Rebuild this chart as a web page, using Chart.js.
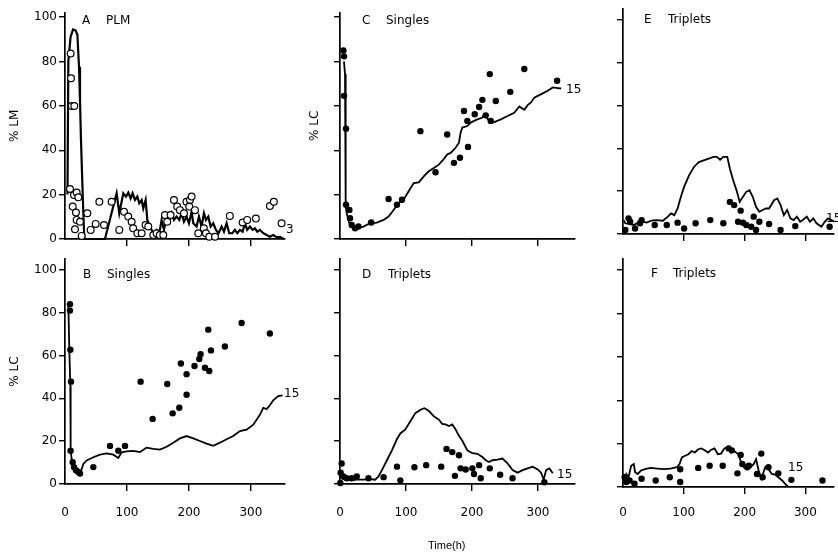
<!DOCTYPE html>
<html>
<head>
<meta charset="utf-8">
<script src="https://cdn.jsdelivr.net/npm/chart.js@4.4.1/dist/chart.umd.min.js"></script>
<style>
  body { margin: 0; background: #fff; width: 838px; height: 554px; position: relative; overflow: hidden; }
  canvas { position: absolute; }
  .t { position: absolute; font-family: "DejaVu Sans", sans-serif; font-size: 12px; line-height: 12px; color: #000; white-space: pre; }
  .t span { position: absolute; left: 24px; top: 0; }
</style>
</head>
<body>
<canvas id="pa" width="300" height="252" style="left:0;top:0"></canvas>
<canvas id="pb" width="300" height="304" style="left:0;top:250px"></canvas>
<canvas id="pc" width="290" height="252" style="left:300px;top:0"></canvas>
<canvas id="pd" width="290" height="304" style="left:300px;top:250px"></canvas>
<canvas id="pe" width="258" height="252" style="left:580px;top:0"></canvas>
<canvas id="pf" width="258" height="304" style="left:580px;top:250px"></canvas>

<div class="t" style="left:82px;top:14px">A<span>PLM</span></div>
<div class="t" style="left:83px;top:268px">B<span>Singles</span></div>
<div class="t" style="left:362px;top:14px">C<span>Singles</span></div>
<div class="t" style="left:362px;top:268px">D<span style="left:26px">Triplets</span></div>
<div class="t" style="left:644px;top:13px">E<span>Triplets</span></div>
<div class="t" style="left:651px;top:267px">F<span style="left:22px">Triplets</span></div>

<div class="t" style="left:286px;top:223px">3</div>
<div class="t" style="left:284px;top:387px">15</div>
<div class="t" style="left:566px;top:83px">15</div>
<div class="t" style="left:557px;top:468px">15</div>
<div class="t" style="left:826px;top:212px">15</div>
<div class="t" style="left:788px;top:461px">15</div>

<div class="t" style="left:428px;top:539px;font-family:'Liberation Sans',sans-serif;font-size:11px">Time(h)</div>

<script>
// time in hours, value in percent
const aLine = [[4,20],[5.4,80],[9,91],[13,94.4],[17,94],[20,92],[22.6,77.6],[24.2,62.6],[25.8,44.6],[28,25],[29.6,11.6],[31.2,0],
  [64.5,0],[83.3,20.6],[87.6,11.6],[94.1,20.6],[98.4,19.1],[102.2,20.9],[105.9,18.3],[109.1,20.6],[112.9,17.6],[116.7,19.1],
  [119.9,16.1],[123.7,17.6],[126.3,13.8],[130.1,17.6],[132.8,8.6],[137.1,5.6],[142.5,2.6],[147.8,4.1],[152.2,2.6],[155.9,8.6],
  [159.7,4.1],[164,10.1],[168.3,7.8],[172,11.6],[175.8,8.6],[180.1,10.1],[184.4,8.6],[188.2,11.6],[191.9,7.8],[196.2,10.1],
  [200,7.1],[204.3,12.3],[207,7.1],[212.4,5.6],[216.1,10.1],[220.4,5.6],[224.2,11.6],[227.4,8.6],[231.2,10.1],[235,5.6],
  [239.2,7.1],[243.5,4.1],[247.8,2.6],[252.7,5.6],[256.5,3.3],[260.8,7.1],[265,2.6],[270,2.6],[274.2,4.1],[278,2.6],
  [282.3,4.1],[286.6,3.3],[290.3,7.1],[294,4.1],[298.4,5.6],[302.7,4.1],[306.5,4.8],[310.2,3.3],[314.5,4.1],[320,2.6],
  [325.3,1.8],[330.6,1],[336,1.8],[341.4,0.8],[346.8,1],[353,0]];
const aDots = [[9.1,83.6],[9.7,72.4],[10.8,59.9],[15,59.9],[8.1,22.5],[14.5,19.8],[18.8,20.9],[21.5,18.8],[12.4,14.6],
  [17.7,11.9],[18.8,8.6],[16.1,4.4],[24.2,7.8],[26.9,1.4],[36,11.6],[41.4,4.1],[49.5,6.8],[55.4,16.8],[62.9,6.3],
  [75.3,16.8],[87.6,4.1],[95.2,12.3],[102,10.1],[107.5,7.8],[110,4.8],[116.7,2.6],[123.7,2.6],[130,6.3],[134.4,5.6],
  [142.5,1.8],[147.8,2.6],[153,1.8],[158.6,1.8],[161.3,10.8],[165,7.8],[170.4,10.8],[175.8,17.6],[181,14.6],[185.5,13],
  [192,11.6],[196,16.8],[201.6,17.6],[200.5,14.6],[204.3,19.1],[209.7,13],[215,2.6],[224,4.8],[227.4,2.6],[232.8,1],
  [242,1],[266,10.4],[286.6,7.4],[294,8.6],[308,9.2],[330.6,14.9],[337,16.8],[349.5,7.1]];

const bLine = [[5.4,84],[7,62.3],[8.6,46],[9.1,15.5],[12.4,7.9],[18.8,5.6],[24.2,4.6],[29.6,9.4],[35,11],[45.7,12.5],
  [56.5,13.7],[67.2,14.3],[78,13.7],[86,12.2],[91.4,14.8],[99.5,15.2],[110.2,15.5],[121,14.9],[131.7,17],[142.5,16.4],
  [153.2,16.1],[164,17.4],[174.7,19.3],[185.5,21.3],[196.2,22.4],[207,21.3],[217.7,20.1],[228.5,18.9],[239.2,17.8],
  [250,19.3],[260.8,20.9],[271.5,22.4],[282.3,24.7],[293,25.4],[303.8,27.7],[314.5,32.3],[319.9,35.6],[325.3,35],
  [330.6,36.8],[336,39.1],[344,41.1],[351,41.4]];
const bDots = [[8,84],[8,81],[8.6,62.7],[9.7,47.8],[9,15.5],[12.4,10.2],[14.5,7.9],[17.7,6.4],[21.5,5.6],[24.2,4.9],
  [45.7,7.9],[72.6,17.8],[86,15.5],[96.8,17.8],[122,47.8],[141.4,30.4],[165,46.7],[173.7,33],[184.4,35.6],[187,56.3],
  [196.2,41.7],[196.2,51.3],[209,55.1],[216.7,58.4],[218.8,60.6],[225.8,54.3],[231.2,72.1],[232.8,52.8],[235.5,62.4],
  [258,64.2],[285,75.2],[330.6,70.3]];

const cLine = [[6,80],[7.6,74.3],[8.6,47.9],[8.6,14.7],[10.2,11.6],[12.7,8.6],[15.2,6.3],[20.3,5.1],[25.4,4.8],[35.5,5.6],
  [45.7,7.1],[55.8,7.4],[66,8.6],[73.6,10.1],[81.2,13.1],[88.8,16.2],[96.4,17.7],[104,21.5],[111.7,25.2],[119.3,25.5],
  [126.9,28.2],[134.5,30.5],[142.1,32],[149.7,33.5],[157.4,36.1],[162.4,38.1],[167.5,38.8],[175.1,41.1],[180.2,43.4],
  [182.7,47.9],[185.3,50.2],[192.9,50.9],[198,52.4],[203,53.2],[208.1,53.9],[215.7,54.7],[218.3,56.2],[223.4,54.2],
  [228.4,52.4],[233.5,52.7],[243.7,53.9],[253.8,55.4],[264,56.9],[271.6,59.7],[279.2,58.2],[284.3,60.3],[289.3,61.5],
  [294.4,63.7],[299.5,64.5],[307.1,65.6],[314.7,66.8],[322.3,68.3],[330,68],[335,67.8]];
const cDots = [[5.1,84.9],[6.1,82.3],[6.1,64.5],[9.1,49.7],[9.1,15.4],[14.2,13.1],[15.2,9.4],[17.8,6.3],[22.8,4.8],
  [27.9,5.6],[47.2,7.4],[73.6,18],[86.3,15.4],[93.9,17.7],[121.8,48.6],[144.7,30.1],[162.4,47.1],[172.6,34.3],
  [181.7,36.6],[187.8,57.7],[192.9,53.2],[193.9,41.5],[204.1,56.2],[210.7,59.5],[215.7,62.7],[220.8,55.7],[228.4,53.2],
  [226.9,74.3],[236,62.2],[257.9,66.3],[279.2,76.6],[328.9,71.3]];

const dLine = [[2.5,3.5],[5.1,2.3],[10.2,2],[15.2,1.7],[25.4,2],[35.5,2],[45.7,2.3],[53.3,2],[58.4,3.5],[63.5,6.5],
  [71.1,11.1],[78.7,15.7],[86.3,21],[91.4,23.6],[99,25.5],[106.6,29.3],[114.2,33.1],[121.8,34.7],[127.9,35.4],
  [134.5,34.2],[142.1,31.6],[149.7,30.1],[154.8,28.1],[159.9,27.8],[165,27.1],[170.1,27.8],[175.1,25.5],[180.2,22.5],
  [185.3,20.2],[192.9,15.7],[200.5,14.4],[208.1,14.1],[215.7,12.6],[220.8,11.1],[225.9,10.3],[231,11.1],[238.6,11.4],
  [246.2,11.9],[253.8,9.6],[261.4,6.5],[269,5.3],[276.6,6.5],[284.3,7.3],[291.9,8.1],[299.5,6.8],[304.6,5.3],
  [308.6,2],[312.2,6.5],[317.3,7.3],[322.3,5]];
const dDots = [[1,5.3],[2.5,9.6],[0.5,0.5],[5.1,3.5],[10.2,2.7],[17.8,2.7],[25.4,3.5],[43.1,2.7],[66,3.2],[86.3,8.1],
  [91.4,1.7],[112.7,7.8],[130.5,8.8],[153.3,8.1],[161.4,16.4],[170.1,14.9],[180.2,13.4],[174.1,3.8],[182.7,7.3],
  [190.4,6.8],[200.5,7.3],[203,4.7],[210.7,8.8],[213.2,2.7],[226.9,7.3],[242.6,4.3],[261.4,2.7],[309.6,0.8]];

const eLine = [[1.1,6.5],[3.8,5],[9.1,4.7],[17.2,4.2],[25.3,5.3],[33.3,5.7],[38.7,5.3],[46.8,6.2],[54.8,6.5],[65.6,6.2],
  [73.7,8.1],[79,9.6],[84.4,8.8],[89.8,11.9],[95.2,17.4],[100.5,22],[108.6,27.4],[116.7,31.3],[124.7,33.6],[132.8,34.4],
  [140.9,35.2],[149,36],[154.3,36],[159.7,34.7],[165,36],[171.5,36],[175.8,30.5],[181.2,25.1],[186.6,20.5],[191.9,15],
  [197.3,17.4],[202.7,19.7],[208,20.5],[213.4,17.4],[218.8,12.7],[224.2,10.4],[229.6,11.2],[234.9,11.9],[240.3,11.9],
  [248.4,15.8],[253.8,16.6],[259.1,13.5],[264.5,8.8],[269.9,11.2],[275.3,7.3],[280.6,6.5],[286,8.1],[291.4,5.7],
  [296.8,6.8],[302.2,8.1],[307.5,5.7],[312.9,7.3],[318.3,5],[326.3,3.4],[331.7,5.7],[337.1,7.3],[342.5,6.5],[347.8,5.7]];
const eDots = [[9.1,7.3],[11.8,5.7],[3.8,1.9],[19.9,2.6],[28,5],[30.6,6.5],[52.2,4.2],[72,4.2],[89.8,5.3],[100.5,2.6],
  [119.4,5],[143.5,6.5],[165,5],[175.8,15],[182.8,13.5],[193.5,10.9],[189.2,5.7],[197.3,5.3],[202.7,4.2],[210.8,3.4],
  [215,8.1],[224.2,5.7],[218.8,1.9],[240.3,4.7],[259.1,1.9],[283.3,3.7],[339.8,3.4]];

const fLine = [[1.6,3],[5.4,6],[9.1,4.5],[13.4,9.8],[17.7,10.6],[19.9,6.8],[24.2,6],[29.6,7.6],[37.6,8.3],[45.7,8.8],
  [56.5,8.5],[67.2,8.2],[78,8.5],[88.7,9.1],[93,10.6],[96.8,13.6],[102.2,14.4],[107.5,15.1],[112.9,16.6],[118.3,15.9],
  [123.7,17.4],[129,17.8],[134.4,16.9],[139.8,15.9],[145.2,17.2],[150.5,17.8],[155.9,15.1],[161.3,15.4],[166.7,17.8],
  [172,18.4],[177.4,15.9],[182.8,16.6],[189.8,15.1],[195.2,10.6],[198.9,9.1],[204.3,10.6],[209.7,9.1],[215.1,10.6],
  [218.8,12.8],[223.1,7.6],[227.4,3.8],[233.9,9.1],[239.2,8.3],[244.6,6],[250,5.7],[255.4,4.5],[261.8,3],[268.8,0.8],
  [271.5,0.3]];
const fDots = [[2.7,4.5],[5.4,2.3],[10.8,3],[18.8,1.5],[30.6,3.8],[53.8,3],[76.9,4.5],[94.1,8.2],[94.1,2.3],[123.7,8.8],
  [142.5,9.8],[164,9.8],[173.7,17.8],[179,16.9],[188.2,6.3],[193.5,14.8],[196.2,10.6],[204.3,9.1],[207,9.8],[220.4,6],
  [227.4,15.4],[229.6,4.5],[239.2,9.1],[255.4,6.3],[276.9,3.3],[328,3]];

const xTicks = [0, 100, 200, 300];
const yTicks = [0, 20, 40, 60, 80, 100];

const INK = '#000';
const FONT = '"DejaVu Sans", sans-serif';

const toXY = arr => arr.map(p => ({ x: p[0], y: p[1] }));

function panel(id, p) {
  const ctx = document.getElementById(id).getContext('2d');
  return new Chart(ctx, {
    type: 'scatter',
    data: {
      datasets: [
        {
          data: toXY(p.dots),
          showLine: false,
          pointRadius: p.open ? 3.4 : 3.2,
          pointBackgroundColor: p.open ? '#fff' : INK,
          pointBorderColor: INK,
          pointBorderWidth: p.open ? 1.2 : 0,
          clip: false,
        },
        {
          data: toXY(p.line),
          showLine: true,
          borderColor: INK,
          borderWidth: p.lw || 1.8,
          pointRadius: 0,
          tension: 0,
          clip: false,
        },
      ],
    },
    options: {
      responsive: false,
      animation: false,
      events: [],
      layout: { padding: { left: 0, right: p.padR, top: p.padT, bottom: p.padB } },
      plugins: { legend: { display: false }, tooltip: { enabled: false } },
      scales: {
        x: {
          type: 'linear',
          min: 0,
          max: p.xmax,
          afterBuildTicks: s => { s.ticks = xTicks.map(v => ({ value: v })); },
          afterFit: s => { s.height = p.xH; },
          border: { color: INK, width: 1.7 },
          grid: {
            drawOnChartArea: false,
            tickLength: 7,
            lineWidth: 1.4,
            color: c => (c.tick && c.tick.value === 0 ? 'rgba(0,0,0,0)' : INK),
          },
          ticks: {
            display: p.xLabels,
            padding: p.xPad || 15,
            color: INK,
            maxRotation: 0,
            autoSkip: false,
            font: { family: FONT, size: 12 },
          },
        },
        y: {
          type: 'linear',
          min: 0,
          max: p.ymax,
          afterBuildTicks: s => { s.ticks = yTicks.map(v => ({ value: v })); },
          afterFit: s => { s.width = p.yW; },
          border: { color: INK, width: 1.7 },
          grid: { drawOnChartArea: false, tickLength: 6, lineWidth: 1.4, color: INK },
          ticks: {
            padding: 2,
            color: INK,
            font: { family: FONT, size: 12 },
            callback: v => (p.yLabels ? String(v) : ''),
          },
          title: {
            display: !!p.yTitle,
            text: p.yTitle || '',
            color: INK,
            padding: { top: 8, bottom: 0 },
            font: { family: FONT, size: 12 },
          },
        },
      },
    },
  });
}

panel('pa', { line: aLine, dots: aDots, open: true, lw: 2.2, xmax: 355, ymax: 102, yW: 65, padR: 15, padT: 12.6, padB: 3, xH: 10, xLabels: false, yLabels: true, yTitle: '% LM' });
panel('pb', { line: bLine, dots: bDots, xmax: 355, ymax: 105, yW: 65, padR: 15, padT: 4, padB: 20, xH: 50, xLabels: true, yLabels: true, yTitle: '% LC' });
panel('pc', { line: cLine, dots: cDots, xmax: 356, ymax: 102, yW: 40, padR: 15, padT: 12.6, padB: 3, xH: 10, xLabels: false, yLabels: false, yTitle: '% LC' });
panel('pd', { line: dLine, dots: dDots, xmax: 356, ymax: 105, yW: 40, padR: 15, padT: 4, padB: 20, xH: 50, xLabels: true, yLabels: false });
panel('pe', { line: eLine, dots: eDots, xmax: 347, ymax: 105, yW: 43, padR: 0, padT: 8.3, padB: 8, xH: 10, xLabels: false, yLabels: false });
panel('pf', { line: fLine, dots: fDots, xmax: 347, ymax: 105, yW: 43, padR: 0, padT: 5, padB: 17, xH: 50, xPad: 12, xLabels: true, yLabels: false });
</script>
</body>
</html>
